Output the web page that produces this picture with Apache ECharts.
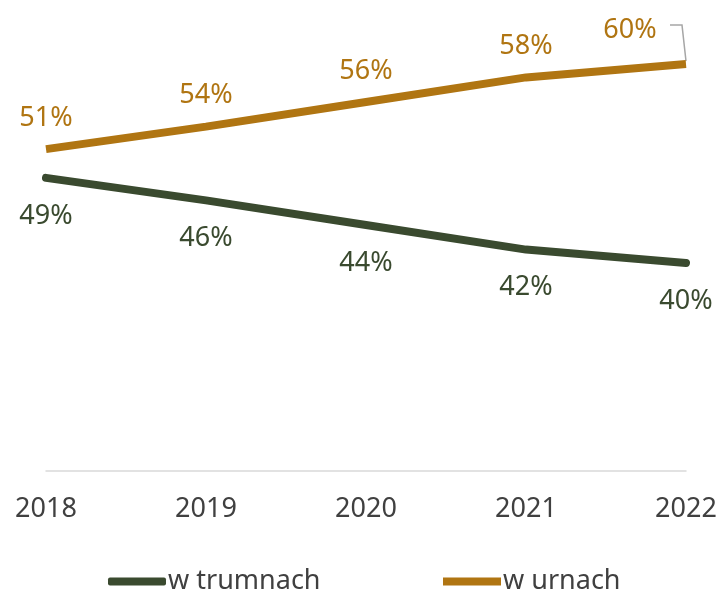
<!DOCTYPE html>
<html>
<head>
<meta charset="utf-8">
<script src="https://cdn.jsdelivr.net/npm/echarts@6/dist/echarts.min.js"></script>
<style>
  html, body { margin: 0; padding: 0; background: #ffffff; }
  #chart { width: 720px; height: 590px; }
</style>
</head>
<body>
<div id="chart"></div>
<script>
// Share of burials by type, 2018–2022 (percent)
const years = ['2018', '2019', '2020', '2021', '2022'];
const coffinShare = [48.6, 46.4, 44.0, 41.6, 40.3];   // w trumnach
const urnShare = [51.4, 53.6, 56.0, 58.4, 59.7];      // w urnach
const seriesNames = ['w trumnach', 'w urnach'];

const FONT = '"Noto Sans", sans-serif';
const GREEN = '#3a4a2f';
const GOLD = '#b07512';
const GREY_TEXT = '#404040';

const chart = echarts.init(document.getElementById('chart'), null, { renderer: 'canvas' });

const pct = p => Math.round(p.value) + '%';

const urnData = urnShare.map((v, i) => {
  if (i === urnShare.length - 1) {
    return { value: v, label: { offset: [-56, -3] } };
  }
  return v;
});

// invisible point markers: labels in a line series hang off the symbols
const hiddenSymbol = {
  symbol: 'circle',
  symbolSize: 1,
  showSymbol: true,
  itemStyle: { color: 'transparent', borderWidth: 0 }
};

const legendText = { color: GREY_TEXT, fontFamily: FONT, fontSize: 27, lineHeight: 26, padding: [0, 0, 0, -3] };

chart.setOption({
  animation: false,
  backgroundColor: '#ffffff',
  grid: { left: 46, right: 34, top: 61, bottom: 119, containLabel: false },
  xAxis: {
    type: 'category',
    data: years,
    boundaryGap: false,
    axisLine: { lineStyle: { color: '#d9d9d9', width: 1.5 } },
    axisTick: { show: false },
    axisLabel: { color: GREY_TEXT, fontFamily: FONT, fontSize: 27, margin: 25 }
  },
  yAxis: {
    type: 'value',
    min: 20,
    max: 60,
    show: false,
    splitLine: { show: false }
  },
  legend: [
    {
      data: [{ name: seriesNames[0], icon: 'roundRect', itemStyle: { color: GREEN, opacity: 1 } }],
      left: 108, top: 568, padding: 0,
      itemWidth: 58, itemHeight: 8,
      textStyle: legendText
    },
    {
      data: [{ name: seriesNames[1], icon: 'rect', itemStyle: { color: GOLD, opacity: 1 } }],
      left: 443, top: 568, padding: 0,
      itemWidth: 58, itemHeight: 8,
      textStyle: legendText
    }
  ],
  series: [
    Object.assign({
      name: seriesNames[0],
      type: 'line',
      data: coffinShare,
      color: GREEN,
      lineStyle: { width: 8, color: GREEN, cap: 'round' },
      label: {
        show: true, position: 'bottom', distance: 24,
        formatter: pct, color: GREEN, fontFamily: FONT, fontSize: 27
      }
    }, hiddenSymbol),
    Object.assign({
      name: seriesNames[1],
      type: 'line',
      data: urnData,
      color: GOLD,
      lineStyle: { width: 8, color: GOLD },
      label: {
        show: true, position: 'top', distance: 17,
        formatter: pct, color: GOLD, fontFamily: FONT, fontSize: 27
      }
    }, hiddenSymbol)
  ]
});

// Leader line from the shifted last label back to its data point
const lastIdx = urnShare.length - 1;
const p = chart.convertToPixel({ seriesIndex: 1 }, [lastIdx, urnShare[lastIdx]]);
chart.setOption({
  graphic: [{
    type: 'polyline',
    silent: true,
    shape: { points: [[p[0] - 16, p[1] - 39], [p[0] - 4, p[1] - 39], [p[0], p[1] - 3]] },
    style: { stroke: '#a6a6a6', lineWidth: 1.5, fill: null }
  }]
});
</script>
</body>
</html>
